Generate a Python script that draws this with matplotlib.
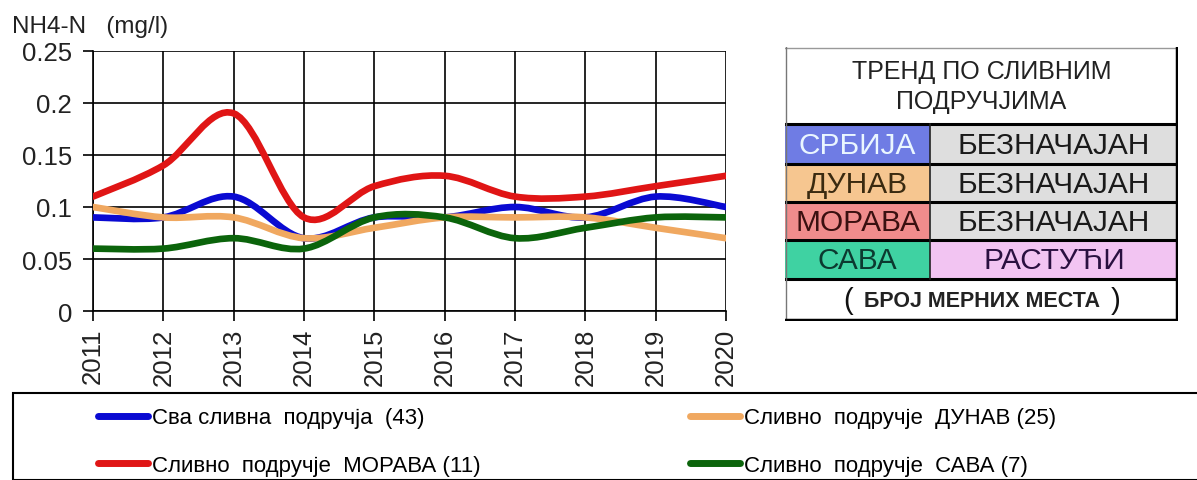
import matplotlib
matplotlib.use('Agg')
import matplotlib.pyplot as plt
from matplotlib.path import Path
from matplotlib.patches import PathPatch, Rectangle
from matplotlib.lines import Line2D

plt.rcParams['font.family'] = ['Liberation Sans', 'DejaVu Sans']

years = [2011, 2012, 2013, 2014, 2015, 2016, 2017, 2018, 2019, 2020]
srbija = [0.09, 0.09, 0.11, 0.07, 0.09, 0.09, 0.10, 0.09, 0.11, 0.10]
dunav = [0.10, 0.09, 0.09, 0.07, 0.08, 0.09, 0.09, 0.09, 0.08, 0.07]
morava = [0.11, 0.14, 0.19, 0.09, 0.12, 0.13, 0.11, 0.11, 0.12, 0.13]
sava = [0.06, 0.06, 0.07, 0.06, 0.09, 0.09, 0.07, 0.08, 0.09, 0.09]

series_labels = ['Сва сливна  подручја  (43)', 'Сливно  подручје  МОРАВА (11)',
                 'Сливно  подручје  ДУНАВ (25)', 'Сливно  подручје  САВА (7)']
series_colors = ['#0a0ad2', '#e01515', '#f0a860', '#0b640b']

ylabel = 'NH4-N   (mg/l)'
yticks = [0, 0.05, 0.1, 0.15, 0.2, 0.25]
ytick_labels = ['0', '0.05', '0.1', '0.15', '0.2', '0.25']

table_title = 'ТРЕНД ПО СЛИВНИМ\nПОДРУЧЈИМА'
basins = ['СРБИЈА', 'ДУНАВ', 'МОРАВА', 'САВА']
trends = ['БЕЗНАЧАЈАН', 'БЕЗНАЧАЈАН', 'БЕЗНАЧАЈАН', 'РАСТУЋИ']
table_note = 'БРОЈ МЕРНИХ МЕСТА'
basin_bg = ['#6f7ce4', '#f6c690', '#f08c8c', '#3fd2a2']
basin_fg = ['#eaf6ff', '#3a2a10', '#3a1010', '#0c3a30']
trend_bg = ['#dedede', '#dedede', '#dedede', '#f2c4f2']
trend_fg = ['#1a1a1a', '#1a1a1a', '#1a1a1a', '#2a1040']


def smooth_path(x, y):
    # Excel-like smoothed line (Catmull-Rom as cubic Bezier)
    n = len(x)
    verts = [(x[0], y[0])]
    codes = [Path.MOVETO]
    for i in range(n - 1):
        i0 = max(i - 1, 0)
        i3 = min(i + 2, n - 1)
        c1 = (x[i] + (x[i + 1] - x[i0]) / 6, y[i] + (y[i + 1] - y[i0]) / 6)
        c2 = (x[i + 1] - (x[i3] - x[i]) / 6, y[i + 1] - (y[i3] - y[i]) / 6)
        verts += [c1, c2, (x[i + 1], y[i + 1])]
        codes += [Path.CURVE4] * 3
    return Path(verts, codes)


W, H = 1197, 481
fig = plt.figure(figsize=(W / 100, H / 100), dpi=100)
ax = fig.add_axes([93 / W, 1 - 312 / H, (726 - 93) / W, (312 - 52) / H])

data = [srbija, morava, dunav, sava]
order = [0, 2, 3, 1]  # blue, orange, green, red on top
for k in order:
    p = PathPatch(smooth_path(years, data[k]), facecolor='none', edgecolor=series_colors[k],
                  lw=4.8, capstyle='round', joinstyle='round', zorder=3)
    ax.add_patch(p)

ax.set_xlim(2011, 2020)
ax.set_ylim(0, 0.25)
ax.set_xticks(years)
ax.set_xticklabels([str(y) for y in years], rotation=90, fontsize=18.5, color='#222222')
ax.set_yticks(yticks)
ax.set_yticklabels(ytick_labels, fontsize=18.5, color='#222222')
ax.grid(True, color='black', lw=1.2)
ax.tick_params(axis='both', direction='out', length=7, width=1.2, color='black')
ax.tick_params(axis='y', pad=8)
ax.tick_params(axis='x', pad=5)
for s in ['top', 'right']:
    ax.spines[s].set_visible(False)
for s in ['left', 'bottom']:
    ax.spines[s].set_linewidth(1.2)

fig.text(12 / W, 1 - 27 / H, ylabel, fontsize=17.5, va='center', ha='left', color='#222222')

# trend table
tx0, tx1, ty0, ty1 = 785, 1178, 48, 322
tax = fig.add_axes([tx0 / W, 1 - ty1 / H, (tx1 - tx0) / W, (ty1 - ty0) / H])
tax.set_xlim(tx0, tx1)
tax.set_ylim(ty1, ty0)
tax.axis('off')
split = 930
rows = [125, 165, 203, 241, 280]
tax.text((tx0 + tx1) / 2, 87, table_title, ha='center', va='center', fontsize=18,
         linespacing=1.35, color='#222222')
for i in range(4):
    yt, yb = rows[i], rows[i + 1]
    tax.add_patch(Rectangle((tx0, yt), split - tx0, yb - yt, facecolor=basin_bg[i], edgecolor='none'))
    tax.add_patch(Rectangle((split, yt), tx1 - split, yb - yt, facecolor=trend_bg[i], edgecolor='none'))
    tax.text((tx0 + split) / 2, (yt + yb) / 2 + 1, basins[i], ha='center', va='center',
             fontsize=21.5, color=basin_fg[i])
    tax.text((split + tx1) / 2, (yt + yb) / 2 + 1, trends[i], ha='center', va='center',
             fontsize=21.5, color=trend_fg[i])
tax.text(848, 301, '(', ha='center', va='center', fontsize=21, color='#111111')
tax.text(1116, 301, ')', ha='center', va='center', fontsize=21, color='#111111')
tax.text(982, 302, table_note, ha='center', va='center', fontsize=15.5,
         color='#222222', fontweight='bold')
for y in rows:
    tax.plot([tx0, tx1], [y, y], color='black', lw=2.2)
tax.plot([split, split], [rows[0], rows[-1]], color='#222222', lw=1.2)
tax.plot([tx0, tx1], [ty0 + 1, ty0 + 1], color='#999999', lw=1)
tax.plot([tx0 + 1, tx0 + 1], [ty0, ty1], color='#777777', lw=1)
tax.plot([tx1 - 1.5, tx1 - 1.5], [ty0, ty1], color='black', lw=2.5)
tax.plot([tx0, tx1], [ty1 - 1.5, ty1 - 1.5], color='black', lw=2.5)

# legend box
fig.patches.append(Rectangle((13 / W, 0), 1.1, (481 - 394) / H, transform=fig.transFigure,
                             facecolor='white', edgecolor='black', lw=1.5))
handles = [Line2D([], [], color=series_colors[k], lw=5, solid_capstyle='round') for k in range(4)]
fig.legend(handles, series_labels, ncol=2, loc='upper left',
           bbox_to_anchor=(94 / W, 1 - 404 / H), frameon=False, borderaxespad=0,
           prop={'size': 16},
           handlelength=2.25, handletextpad=0.18, columnspacing=9.4, labelspacing=1.2,
           borderpad=0.2)

fig.savefig('out.png', dpi=100)
